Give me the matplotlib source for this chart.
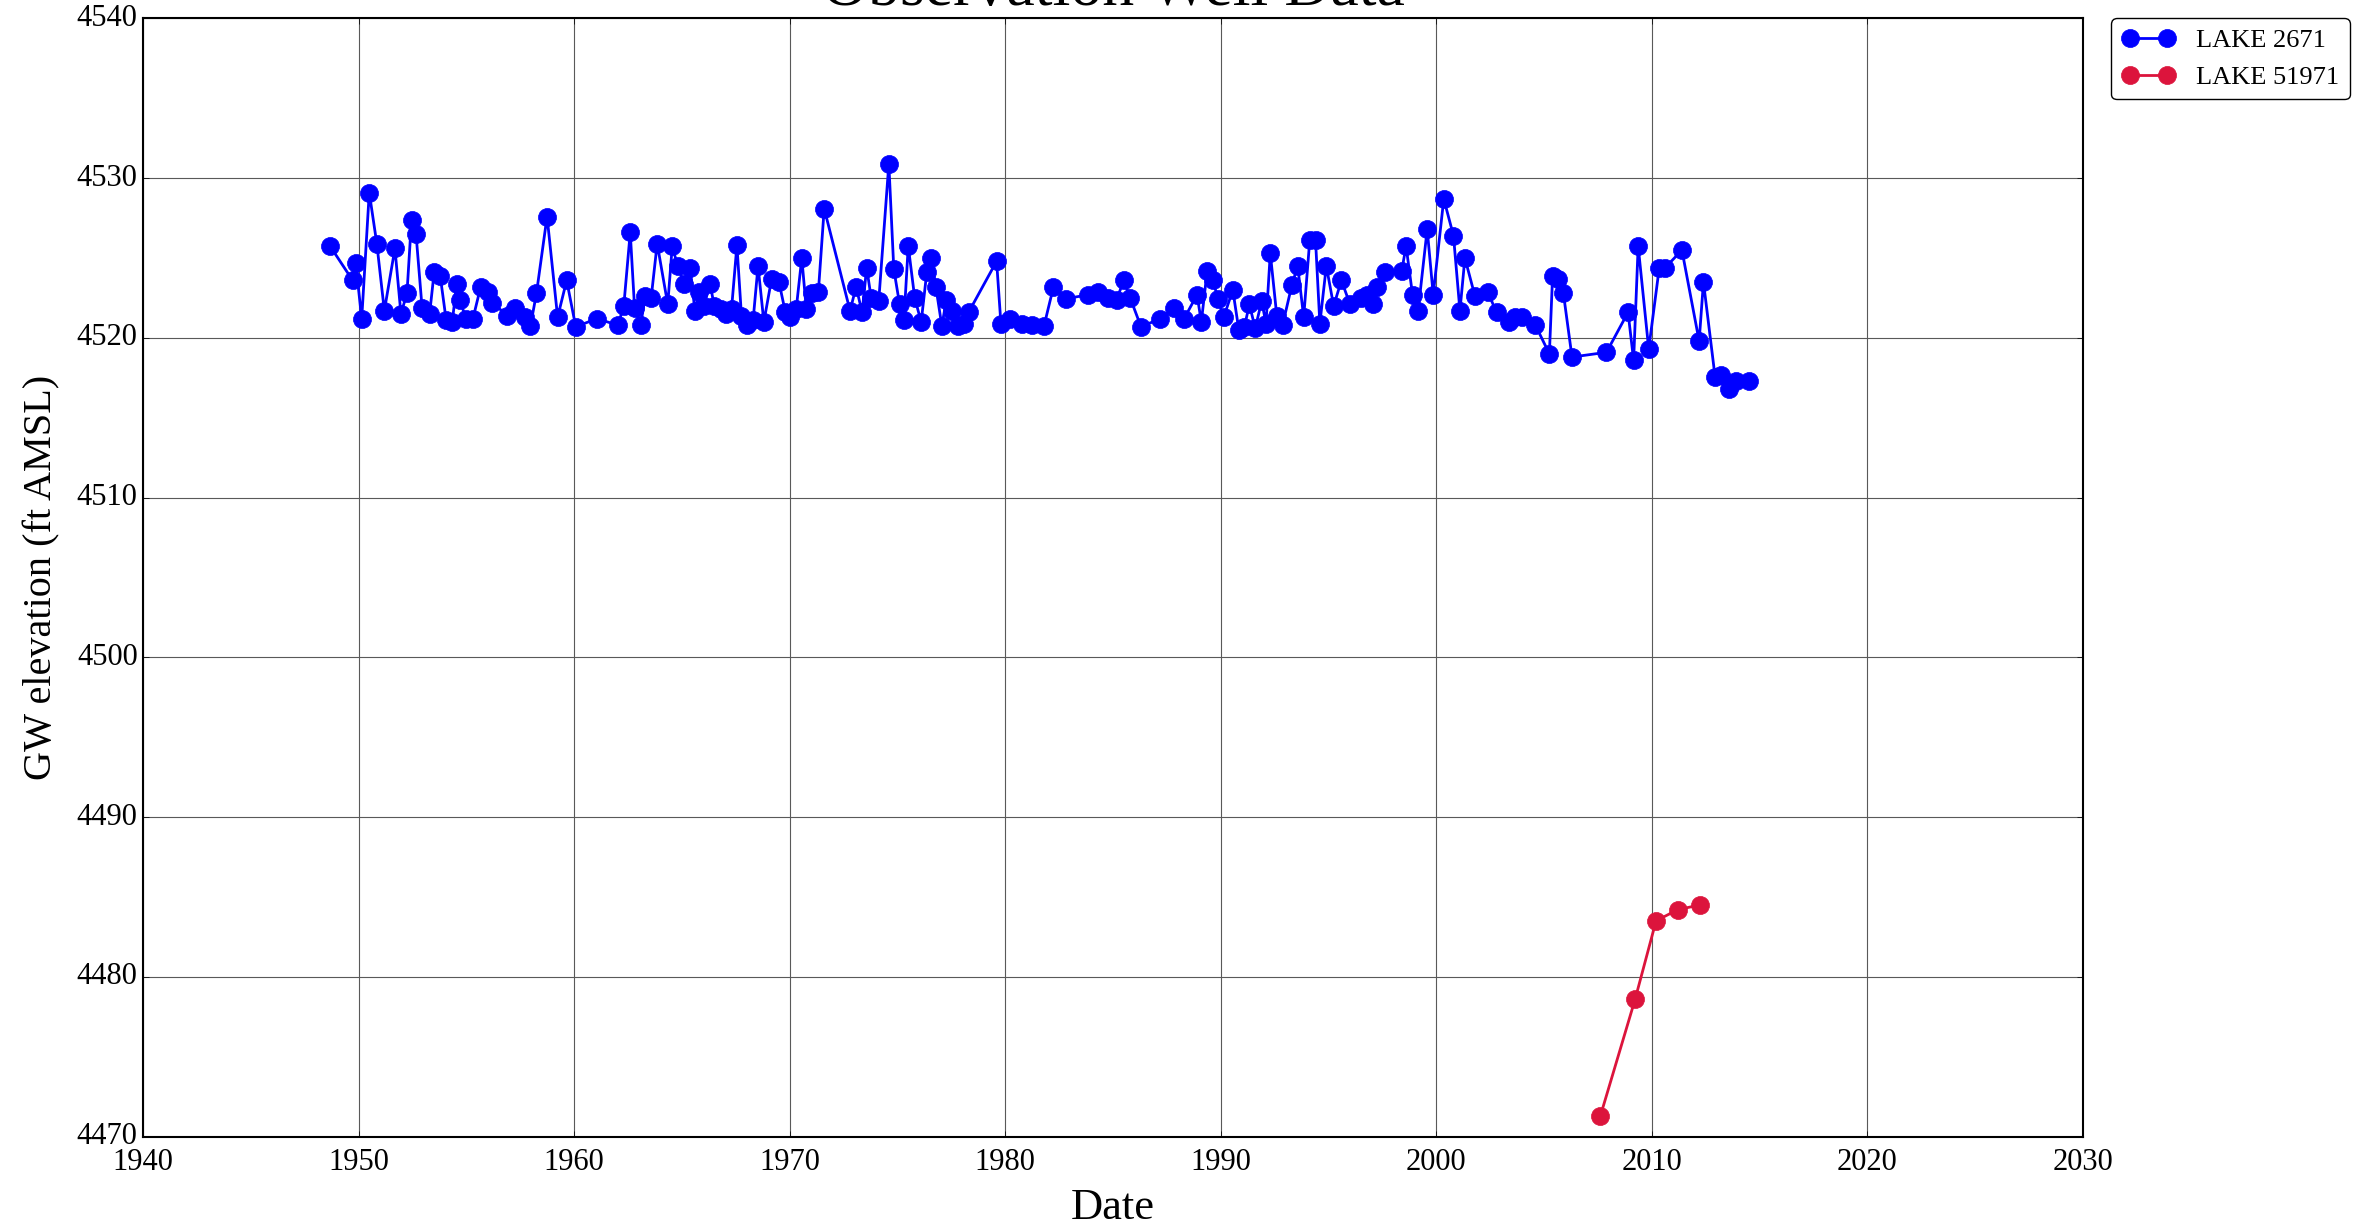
import matplotlib
matplotlib.use("Agg")
import matplotlib.pyplot as plt

plt.style.use("classic")
plt.rcParams['font.family'] = 'serif'
plt.rcParams['font.serif'] = ['Liberation Serif', 'DejaVu Serif']

# LAKE 2671 (decimal years, ft AMSL)
years_2671 = [
    1948.67, 1949.72, 1949.86, 1950.14, 1950.49, 1950.84, 1951.19, 1951.68, 1951.96, 1952.24,
    1952.45, 1952.66, 1952.94, 1953.29, 1953.50, 1953.78, 1954.06, 1954.34, 1954.55, 1954.70,
    1954.97, 1955.30, 1955.66, 1956.00, 1956.20, 1956.90, 1957.27, 1957.70, 1957.97, 1958.25,
    1958.74, 1959.23, 1959.65, 1960.07, 1961.05, 1962.03, 1962.30, 1962.60, 1962.80, 1963.08,
    1963.30, 1963.57, 1963.85, 1964.34, 1964.55, 1964.80, 1965.10, 1965.38, 1965.60, 1965.80,
    1966.00, 1966.30, 1966.50, 1966.80, 1967.06, 1967.30, 1967.55, 1967.76, 1968.04, 1968.30,
    1968.53, 1968.80, 1969.16, 1969.50, 1969.80, 1970.00, 1970.30, 1970.56, 1970.77, 1971.05,
    1971.33, 1971.60, 1972.80, 1973.08, 1973.36, 1973.57, 1973.78, 1974.13, 1974.60, 1974.83,
    1975.10, 1975.30, 1975.50, 1975.80, 1976.10, 1976.36, 1976.57, 1976.78, 1977.06, 1977.27,
    1977.55, 1977.83, 1978.10, 1978.30, 1979.60, 1979.80, 1980.20, 1980.77, 1981.26, 1981.80,
    1982.24, 1982.80, 1983.85, 1984.30, 1984.75, 1985.17, 1985.50, 1985.80, 1986.30, 1987.20,
    1987.83, 1988.30, 1988.90, 1989.10, 1989.37, 1989.65, 1989.86, 1990.14, 1990.56, 1990.84,
    1991.10, 1991.33, 1991.60, 1991.90, 1992.10, 1992.30, 1992.60, 1992.87, 1993.30, 1993.57,
    1993.85, 1994.13, 1994.40, 1994.60, 1994.90, 1995.24, 1995.60, 1996.00, 1996.50, 1996.80,
    1997.06, 1997.27, 1997.60, 1998.40, 1998.60, 1998.90, 1999.16, 1999.58, 1999.86, 2000.35,
    2000.80, 2001.10, 2001.33, 2001.80, 2002.38, 2002.80, 2003.36, 2003.64, 2004.00, 2004.60,
    2005.25, 2005.40, 2005.67, 2005.90, 2006.30, 2007.90, 2008.90, 2009.16, 2009.37, 2009.86,
    2010.35, 2010.63, 2011.40, 2012.20, 2012.40, 2012.94, 2013.20, 2013.60, 2013.90, 2014.50,
]
elev_2671 = [
    4525.75, 4523.6, 4524.7, 4521.2, 4529.1, 4525.9, 4521.7, 4525.6, 4521.5, 4522.8,
    4527.4, 4526.5, 4521.9, 4521.5, 4524.1, 4523.9, 4521.1, 4521.0, 4523.4, 4522.4,
    4521.2, 4521.2, 4523.2, 4522.9, 4522.2, 4521.4, 4521.9, 4521.3, 4520.75, 4522.8,
    4527.6, 4521.3, 4523.6, 4520.7, 4521.2, 4520.8, 4522.0, 4526.6, 4521.9, 4520.8,
    4522.6, 4522.5, 4525.9, 4522.1, 4525.75, 4524.5, 4523.4, 4524.4, 4521.7, 4522.9,
    4522.0, 4523.4, 4522.0, 4521.8, 4521.5, 4521.8, 4525.8, 4521.4, 4520.8, 4521.1,
    4524.5, 4521.0, 4523.7, 4523.5, 4521.6, 4521.3, 4521.8, 4525.0, 4521.8, 4522.8,
    4522.9, 4528.1, 4521.7, 4523.2, 4521.6, 4524.4, 4522.5, 4522.3, 4530.9, 4524.3,
    4522.1, 4521.1, 4525.75, 4522.5, 4521.0, 4524.1, 4525.0, 4523.2, 4520.75, 4522.4,
    4521.7, 4520.75, 4520.9, 4521.6, 4524.8, 4520.9, 4521.2, 4520.9, 4520.8, 4520.75,
    4523.2, 4522.45, 4522.7, 4522.9, 4522.5, 4522.4, 4523.6, 4522.5, 4520.7, 4521.2,
    4521.9, 4521.2, 4522.7, 4521.0, 4524.2, 4523.6, 4522.45, 4521.3, 4523.0, 4520.5,
    4520.7, 4522.1, 4520.6, 4522.3, 4520.9, 4525.3, 4521.4, 4520.8, 4523.3, 4524.5,
    4521.3, 4526.1, 4526.1, 4520.9, 4524.5, 4522.0, 4523.6, 4522.1, 4522.5, 4522.7,
    4522.1, 4523.2, 4524.1, 4524.2, 4525.75, 4522.7, 4521.7, 4526.8, 4522.7, 4528.7,
    4526.4, 4521.7, 4525.0, 4522.6, 4522.9, 4521.6, 4521.0, 4521.3, 4521.3, 4520.8,
    4519.0, 4523.9, 4523.7, 4522.8, 4518.8, 4519.1, 4521.6, 4518.6, 4525.75, 4519.3,
    4524.4, 4524.4, 4525.5, 4519.8, 4523.5, 4517.55, 4517.7, 4516.8, 4517.3, 4517.3,
]

# LAKE 51971
years_51971 = [2007.62, 2009.23, 2010.20, 2011.20, 2012.24]
elev_51971 = [4471.3, 4478.6, 4483.5, 4484.2, 4484.5]

x_ticks = list(range(1940, 2031, 10))
y_ticks = list(range(4470, 4541, 10))

fig = plt.figure(figsize=(23.63, 12.30), dpi=100, facecolor='white')
ax = fig.add_axes([0.0606, 0.076, 0.8208, 0.909])

ax.plot(years_2671, elev_2671, '-o', color='#0000ff', mec='#0000ff',
        markersize=13, linewidth=2, label='LAKE 2671')
ax.plot(years_51971, elev_51971, '-o', color='#dc143c', mec='#dc143c',
        markersize=13, linewidth=2, label='LAKE 51971')

ax.set_xlim(1940, 2030)
ax.set_ylim(4470, 4540)
ax.set_xticks(x_ticks)
ax.set_yticks(y_ticks)
ax.ticklabel_format(useOffset=False, style='plain')
ax.tick_params(axis='x', labelsize=22, pad=8)
ax.tick_params(axis='y', labelsize=22, pad=4)
ax.grid(True, color='0.35', linestyle='-', linewidth=0.8)
ax.set_axisbelow(True)
for s in ax.spines.values():
    s.set_linewidth(1.5)

ax.set_title('Observation Well Data', fontsize=46, pad=10)
ax.set_xlabel('Date', fontsize=32, labelpad=8)
ax.set_ylabel('GW elevation (ft AMSL)', fontsize=29, labelpad=12)

ax.legend(loc='upper left', bbox_to_anchor=(1.008, 1.012), fontsize=19,
          numpoints=2, fancybox=True, framealpha=1)

fig.savefig('out.png', dpi=100, facecolor='white')
